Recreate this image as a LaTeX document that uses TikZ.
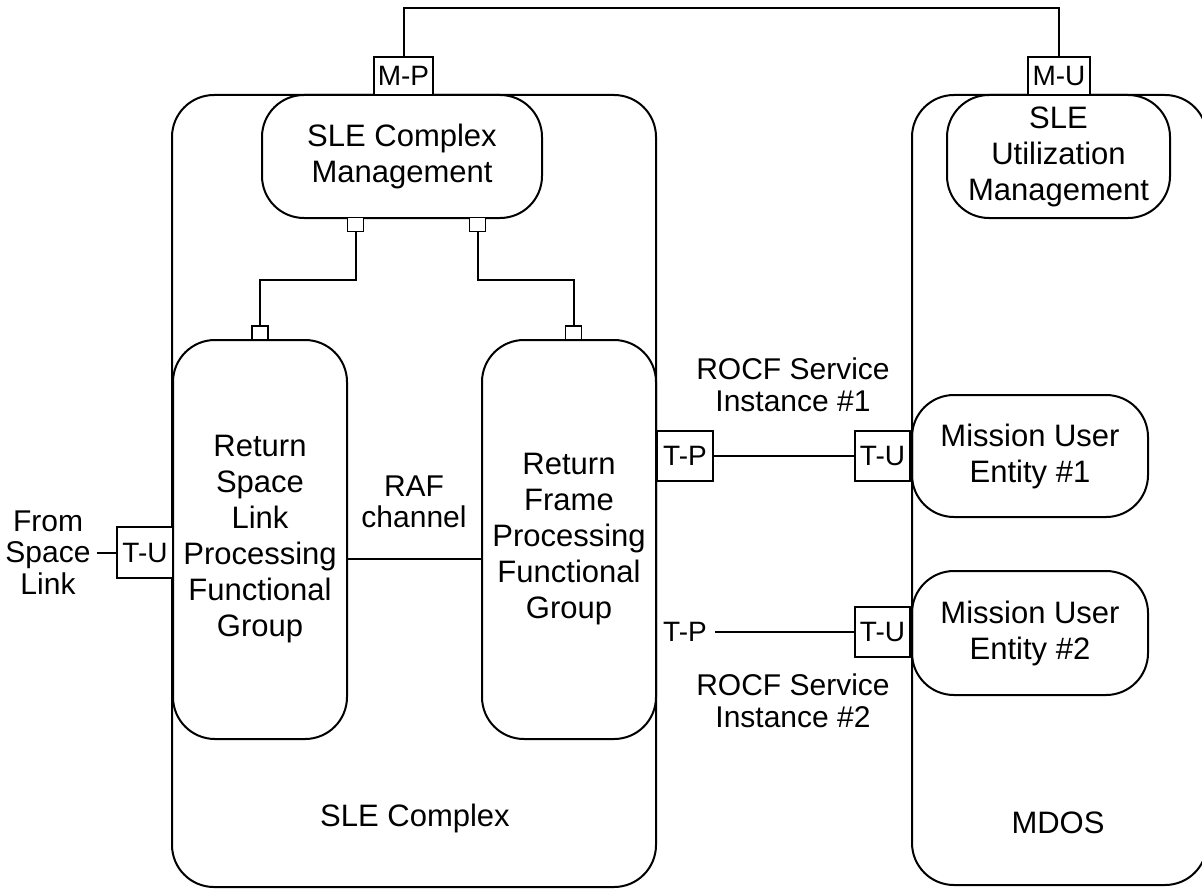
\documentclass[tikz,border=0pt]{standalone}
\usepackage{fontspec}
\setmainfont{Liberation Sans}
\begin{document}
\begin{tikzpicture}[x=0.5pt,y=-0.5pt,line width=1pt,
    box/.style={draw,rounded corners=21pt,align=center,inner sep=0pt,font=\fontsize{15.5}{18}\selectfont},
    port/.style={draw,fill=white,inner sep=0pt,font=\fontsize{14}{15}\selectfont},
    tick/.style={draw,fill=white,inner sep=0pt,line width=0.8pt,minimum width=8pt,minimum height=7pt},
    txt/.style={align=center,font=\fontsize{15}{15.8}\selectfont}]
        \useasboundingbox (0,0) rectangle (1202,888);
        \clip (0,0) rectangle (1202,888);

        % containers
        \node[box,minimum width=242pt,minimum height=396pt] (complex) at (414,491) {};
        \node[box,minimum width=147.5pt,minimum height=395pt] (mdos) at (1059.5,490) {};
        \node[txt,font=\fontsize{15.5}{18}\selectfont] (complexlbl) at (415,818) {SLE Complex};
        \node[txt,font=\fontsize{15.5}{18}\selectfont] (mdoslbl) at (1058,823) {MDOS};

        % functional groups
        \node[box,minimum width=140pt,minimum height=61.5pt] (cmgmt) at (402,156.5) {SLE Complex\\Management};
        \node[box,minimum width=111.5pt,minimum height=61.5pt] (umgmt) at (1058.5,156.5) {SLE\\Utilization\\Management};
        \node[box,minimum width=87pt,minimum height=199.5pt] (rslp) at (260,539.5) {Return\\Space\\Link\\Processing\\Functional\\Group};
        \node[box,minimum width=87pt,minimum height=199.5pt] (rfp) at (569,539.5) {Return\\Frame\\Processing\\Functional\\Group};
        \node[box,minimum width=118pt,minimum height=61pt] (user1) at (1030,456) {Mission User\\Entity \#1};
        \node[box,minimum width=118pt,minimum height=62pt] (user2) at (1030,633) {Mission User\\Entity \#2};

        % ports
        \node[port,minimum width=29.5pt,minimum height=19pt] (mp) at (403.5,76) {M-P};
        \node[port,minimum width=31pt,minimum height=19pt] (mu) at (1059,76) {M-U};
        \node[port,minimum width=28pt,minimum height=25.5pt] (tul) at (145,552.5) {T-U};
        \node[port,minimum width=28pt,minimum height=25pt] (tp1) at (685,456) {T-P};
        \node[port,minimum width=27.5pt,minimum height=25pt] (tu1) at (882.5,456) {T-U};
        \node[port,minimum width=27.5pt,minimum height=25pt] (tu2) at (882.5,631.5) {T-U};
        \node[txt,font=\fontsize{14}{15}\selectfont,inner sep=3.5pt] (tp2) at (685,631.5) {T-P};

        \node[tick] (ta) at (355.5,224.5) {};
        \node[tick] (tb) at (477.5,224.5) {};
        \node[tick] (tc) at (260,333) {};
        \node[tick] (td) at (573.5,333) {};

        % labels
        \node[txt] (rafch) at (414,502) {RAF\\channel};
        \node[txt] (rocf1) at (793,385) {ROCF Service\\Instance \#1};
        \node[txt] (rocf2) at (793,701) {ROCF Service\\Instance \#2};
        \node[txt,inner sep=2.5pt] (fromsl) at (48,552.5) {From\\Space\\Link};

        % connectors
        \coordinate (toprail) at (0,8);
        \coordinate (rafy) at (0,559);
        \draw (mp.north) -- (mp.north |- toprail) -| (mu.north);
        \draw (ta.south) -- ++(0,48) -| (tc.north);
        \draw (tb.south) -- ++(0,48) -| (td.north);
        \draw (rslp.east |- rafy) -- (rfp.west |- rafy);
        \draw (fromsl) -- (tul);
        \draw (tp1) -- (tu1);
        \draw (tp2) -- (tu2);
\end{tikzpicture}
\end{document}
